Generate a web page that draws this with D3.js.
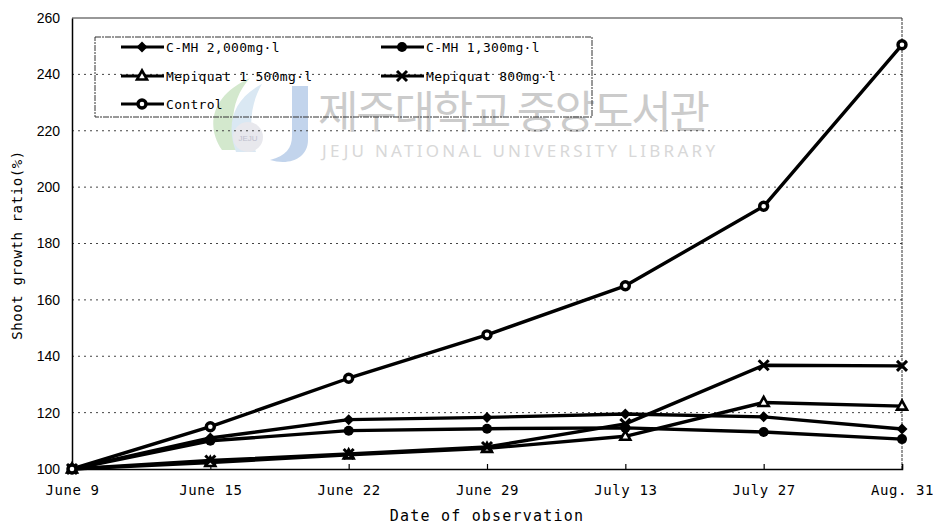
<!DOCTYPE html>
<html>
<head>
<meta charset="utf-8">
<script src="https://cdn.jsdelivr.net/npm/d3@7/dist/d3.min.js"></script>
<style>
  html, body { margin: 0; padding: 0; background: #fff; }
  svg { display: block; }
</style>
</head>
<body>
<svg id="chart" width="933" height="527"></svg>
<script>
// Observation dates
const dates = ["June 9", "June 15", "June 22", "June 29", "July 13", "July 27", "Aug. 31"];

// Shoot growth ratio (%) per treatment
const cmh2000 = [100, 111, 117.5, 118.3, 119.5, 118.5, 114.2];
const cmh1300 = [100, 110, 113.6, 114.3, 114.6, 113.1, 110.6];
const mepiquat1500 = [100, 102.3, 105, 107.3, 111.6, 123.6, 122.3];
const mepiquat800 = [100, 103, 105.3, 107.8, 116, 136.8, 136.6];
const control = [100, 115, 132.2, 147.6, 165, 193.2, 250.5];

const yTicks = [100, 120, 140, 160, 180, 200, 220, 240, 260];

const legendLabels = ["C-MH 2,000mg\u00B7l", "C-MH 1,300mg\u00B7l", "Mepiquat 1 500mg\u00B7l", "Mepiquat 800mg\u00B7l", "Control"];
const markerTypes = ["diamond", "dot", "triangle", "cross", "ring"];

const series = [cmh2000, cmh1300, mepiquat1500, mepiquat800, control].map((v, i) => ({
  label: legendLabels[i], marker: markerTypes[i], values: v
}));

const svg = d3.select("#chart");
const plotLeft = 72, plotRight = 902, plotTop = 18, plotBottom = 469;

const x = d3.scalePoint().domain(dates).range([plotLeft, plotRight]).padding(0);
const y = d3.scaleLinear().domain([100, 260]).range([plotBottom, plotTop]);

const font = "'Liberation Sans', Arial, sans-serif";
const monoFont = "'DejaVu Sans Mono', 'Liberation Mono', monospace";

// --- library watermark (drawn behind the chart) ---
const wm = svg.append("g").attr("opacity", 0.9);
wm.append("path")
  .attr("d", "M222,150 C205,125 212,95 250,78 C232,98 228,125 240,150 Z")
  .attr("fill", "#cfe6c8");
wm.append("path")
  .attr("d", "M236,152 C226,125 232,100 262,84 C250,104 248,130 256,152 Z")
  .attr("fill", "#d6e6f2");
wm.append("path")
  .attr("d", "M292,86 L308,86 L308,140 C308,158 290,166 270,160 C286,156 292,148 292,136 Z")
  .attr("fill", "#bcd0ea");
wm.append("circle").attr("cx", 248).attr("cy", 137).attr("r", 15).attr("fill", "#e6e6ec");
wm.append("text").attr("x", 248).attr("y", 141).attr("text-anchor", "middle")
  .attr("font-family", font).attr("font-size", 8).attr("fill", "#b8b8c8").text("JEJU");
wm.append("text").attr("x", 318).attr("y", 128)
  .attr("font-family", "'Noto Sans CJK KR', sans-serif").attr("font-size", 44)
  .attr("fill", "#c6c6c6").attr("textLength", 392).text("제주대학교 중앙도서관");
wm.append("text").attr("x", 322).attr("y", 157)
  .attr("font-family", "'Noto Sans', sans-serif").attr("font-size", 17)
  .attr("fill", "#d4d4d4").attr("textLength", 393).text("JEJU NATIONAL UNIVERSITY  LIBRARY");

// --- gridlines ---
svg.append("g").selectAll("line")
  .data(yTicks.filter(d => d > 100 && d < 260))
  .join("line")
  .attr("x1", plotLeft).attr("x2", plotRight)
  .attr("y1", d => y(d)).attr("y2", d => y(d))
  .attr("stroke", "#444").attr("stroke-width", 1).attr("stroke-dasharray", "2,4");

// --- frame ---
svg.append("line").attr("x1", plotLeft).attr("x2", plotRight).attr("y1", plotTop).attr("y2", plotTop)
  .attr("stroke", "#333").attr("stroke-width", 1.2);
svg.append("line").attr("x1", plotRight).attr("x2", plotRight).attr("y1", plotTop).attr("y2", plotBottom)
  .attr("stroke", "#333").attr("stroke-width", 1).attr("stroke-dasharray", "3,1");

// --- axes ---
const yAxis = svg.append("g").attr("transform", `translate(${plotLeft},0)`)
  .call(d3.axisLeft(y).tickValues(yTicks).tickSize(0).tickPadding(12));
yAxis.select(".domain").attr("stroke", "#000").attr("stroke-width", 1.5);
yAxis.selectAll("text").attr("font-family", font).attr("font-size", 14).attr("fill", "#000");

const xAxis = svg.append("g").attr("transform", `translate(0,${plotBottom})`)
  .call(d3.axisBottom(x).tickSize(-5).tickPadding(16));
xAxis.select(".domain").attr("stroke", "#000").attr("stroke-width", 1.5);
xAxis.selectAll(".tick line").attr("stroke", "#000").attr("stroke-width", 1.2);
xAxis.selectAll(".tick text").attr("font-family", monoFont).attr("font-size", 14)
  .attr("fill", "#000").attr("letter-spacing", 0.6);

// axis titles
svg.append("text").attr("x", 487).attr("y", 521).attr("text-anchor", "middle")
  .attr("font-family", monoFont).attr("font-size", 15).attr("fill", "#000")
  .attr("letter-spacing", 1.2).text("Date of observation");
svg.append("text").attr("transform", "translate(22,245) rotate(-90)").attr("text-anchor", "middle")
  .attr("font-family", monoFont).attr("font-size", 14).attr("fill", "#000")
  .attr("letter-spacing", 0.6).text("Shoot growth ratio(%)");

// --- markers ---
function drawMarker(g, type, cx, cy) {
  if (type === "diamond") {
    g.append("path").attr("d", `M${cx},${cy - 5.5}L${cx + 5.5},${cy}L${cx},${cy + 5.5}L${cx - 5.5},${cy}Z`)
      .attr("fill", "#000");
  } else if (type === "dot") {
    g.append("circle").attr("cx", cx).attr("cy", cy).attr("r", 5).attr("fill", "#000");
  } else if (type === "triangle") {
    g.append("path").attr("d", `M${cx},${cy - 5.5}L${cx + 5},${cy + 3.5}L${cx - 5},${cy + 3.5}Z`)
      .attr("fill", "#fff").attr("stroke", "#000").attr("stroke-width", 2.6);
  } else if (type === "cross") {
    g.append("path").attr("d", `M${cx - 5},${cy - 5}L${cx + 5},${cy + 5}M${cx - 5},${cy + 5}L${cx + 5},${cy - 5}`)
      .attr("stroke", "#000").attr("stroke-width", 3);
  } else if (type === "ring") {
    g.append("circle").attr("cx", cx).attr("cy", cy).attr("r", 4)
      .attr("fill", "#fff").attr("stroke", "#000").attr("stroke-width", 3.4);
  }
}

// --- lines ---
const line = d3.line().x((d, i) => x(dates[i])).y(d => y(d));
const lines = svg.append("g");
series.forEach(s => {
  lines.append("path").datum(s.values).attr("d", line)
    .attr("fill", "none").attr("stroke", "#000").attr("stroke-width", 3.4)
    .attr("stroke-linejoin", "round");
});
series.forEach(s => {
  const g = lines.append("g");
  s.values.forEach((v, i) => drawMarker(g, s.marker, x(dates[i]), y(v)));
});

// --- legend ---
const lg = svg.append("g");
lg.append("rect").attr("x", 95).attr("y", 37).attr("width", 497).attr("height", 80)
  .attr("fill", "none").attr("stroke", "#333").attr("stroke-width", 1)
  .attr("stroke-dasharray", "6,1,2,1");
const legendPos = [[121, 47], [381, 47], [121, 76], [381, 76], [121, 104]];
series.forEach((s, i) => {
  const [lx, ly] = legendPos[i];
  lg.append("line").attr("x1", lx).attr("x2", lx + 43).attr("y1", ly).attr("y2", ly)
    .attr("stroke", "#000").attr("stroke-width", 3);
  drawMarker(lg, s.marker, lx + 21, ly);
  lg.append("text").attr("x", lx + 45).attr("y", ly + 5)
    .attr("font-family", monoFont).attr("font-size", 13).attr("fill", "#000")
    .attr("letter-spacing", 0.3).text(s.label);
});
</script>
</body>
</html>
